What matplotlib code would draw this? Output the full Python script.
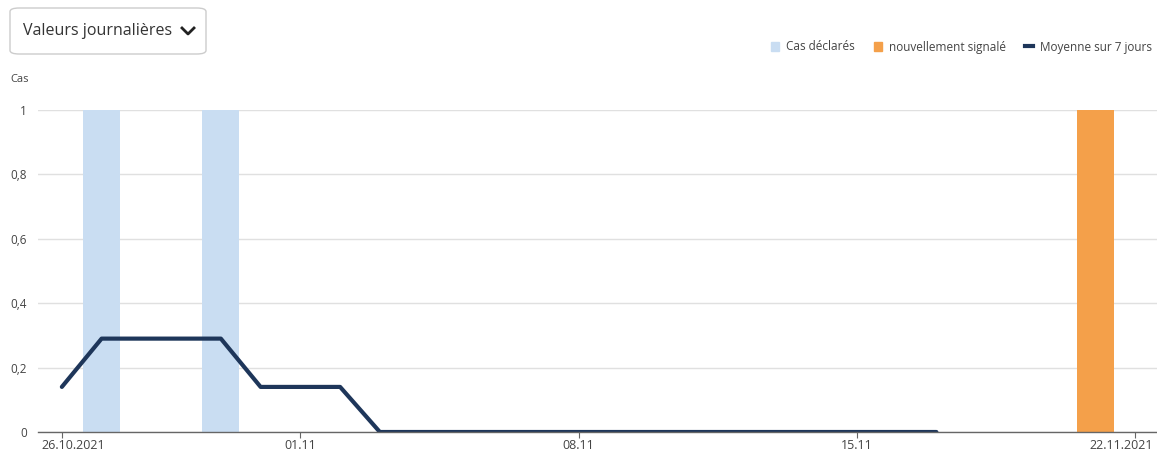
import matplotlib
matplotlib.use("Agg")
import matplotlib.pyplot as plt
import matplotlib.dates as mdates
import matplotlib.transforms as mtransforms
from matplotlib.patches import FancyBboxPatch
from matplotlib.lines import Line2D
from matplotlib.patches import Patch
import datetime as dt

plt.rcParams['font.family'] = ['Open Sans', 'DejaVu Sans']

start = dt.date(2021, 10, 26)
# 7-day average line (days 0..22)
avg_days = [dt.date(2021, 10, 26) + dt.timedelta(days=i) for i in range(23)]
avg_values = [0.14, 0.29, 0.29, 0.29, 0.29, 0.14, 0.14, 0.14] + [0.0] * 15
# reported cases
reported_dates = [dt.date(2021, 10, 27), dt.date(2021, 10, 30)]
reported_values = [1, 1]
# newly reported
new_dates = [dt.date(2021, 11, 21)]
new_values = [1]

tick_dates = [dt.date(2021, 10, 26), dt.date(2021, 11, 1), dt.date(2021, 11, 8),
              dt.date(2021, 11, 15), dt.date(2021, 11, 22)]
tick_labels = ["26.10.2021", "01.11", "08.11", "15.11", "22.11.2021"]
y_ticks = [0, 0.2, 0.4, 0.6, 0.8, 1]
y_labels = ["0", "0,2", "0,4", "0,6", "0,8", "1"]

c_rep = "#c9ddf2"
c_new = "#f4a04a"
c_line = "#1e365a"
c_text = "#444444"

W, H = 1157, 451
fig = plt.figure(figsize=(W / 100, H / 100), dpi=100)
ax = fig.add_axes([38 / W, (H - 432) / H, (1157 - 38) / W, (432 - 110) / H])

ax.bar(reported_dates, reported_values, width=0.93, color=c_rep, zorder=2)
ax.bar(new_dates, new_values, width=0.93, color=c_new, zorder=2)
ax.plot(avg_days, avg_values, color=c_line, lw=3, zorder=3, solid_capstyle='round')

x0 = mdates.date2num(start)
ax.set_xlim(x0 - 0.6, x0 + 27.55)
ax.set_ylim(0, 1)
ax.set_xticks([mdates.date2num(d) for d in tick_dates])
ax.set_xticklabels(tick_labels, fontsize=9, color=c_text)
ax.set_yticks(y_ticks)
ax.set_yticklabels(y_labels, fontsize=8.5, color=c_text)
ax.tick_params(axis='y', length=0, pad=8)
ax.tick_params(axis='x', length=4, color="#666666", pad=1)
ax.grid(axis='y', color="#e0e0e0", lw=1, zorder=0)
for s in ['top', 'right', 'left']:
    ax.spines[s].set_visible(False)
ax.spines['bottom'].set_color("#666666")
ax.spines['bottom'].set_linewidth(1)
ax.spines['bottom'].set_zorder(4)

# keep end tick labels inside the plot area
labels = ax.get_xticklabels()
last = labels[-1]
last.set_horizontalalignment('right')
last.set_transform(last.get_transform() + mtransforms.ScaledTranslation(0.18, 0, fig.dpi_scale_trans))
first = labels[0]
first.set_horizontalalignment('left')
first.set_transform(first.get_transform() + mtransforms.ScaledTranslation(-0.20, 0, fig.dpi_scale_trans))

fig.text(10 / W, (H - 80) / H, "Cas", fontsize=8, color=c_text, va='center', ha='left')

# dropdown box
box = FancyBboxPatch((10 / W, (H - 54) / H), 196 / W, 46 / H,
                     boxstyle="round,pad=0,rounding_size=0.008",
                     transform=fig.transFigure, fc="white", ec="#cccccc", lw=1)
fig.patches.append(box)
fig.text(23 / W, (H - 31) / H, "Valeurs journalières", fontsize=11.5, color="#333333",
         va='center', ha='left')
fig.lines.append(Line2D([182 / W, 188 / W, 194 / W], [(H - 28) / H, (H - 34) / H, (H - 28) / H],
                        transform=fig.transFigure, color="#222222", lw=2))

handles = [Patch(color=c_rep, label="Cas déclarés"),
           Patch(color=c_new, label="nouvellement signalé"),
           Line2D([0], [0], color=c_line, lw=3, label="Moyenne sur 7 jours")]
fig.legend(handles=handles, loc='center right', bbox_to_anchor=(1163 / W, (H - 47) / H),
           ncol=3, frameon=False, fontsize=8.5, handlelength=0.7, handleheight=0.7,
           columnspacing=1.6, handletextpad=0.6, labelcolor=c_text)

fig.savefig("out.png", dpi=100)
